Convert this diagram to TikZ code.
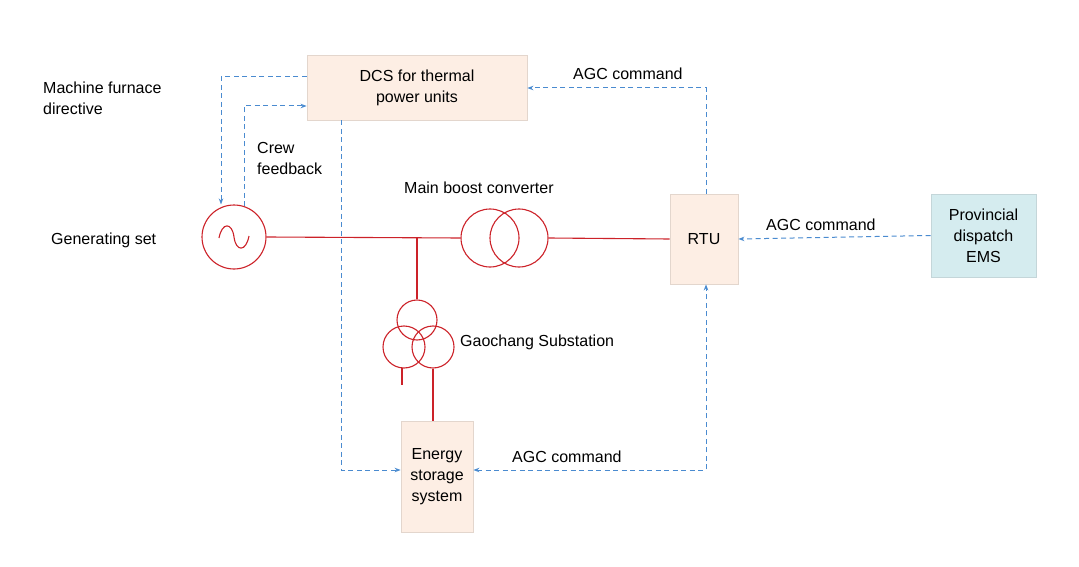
\documentclass[tikz,border=0pt]{standalone}
\usepackage{fontspec}
\setmainfont{Liberation Sans}
\usetikzlibrary{arrows.meta}
\definecolor{boxf}{HTML}{FDEEE4}
\definecolor{boxd}{HTML}{E3D6CD}
\definecolor{emsf}{HTML}{D5ECEF}
\definecolor{red1}{HTML}{CC2229}
\definecolor{blu}{HTML}{4A8BD0}
\begin{document}
\begin{tikzpicture}[x=1pt,y=-1pt,
 box/.style={draw=boxd,fill=boxf,line width=0.8pt,align=center,font=\fontsize{16}{21}\selectfont,inner sep=0pt},
 lbl/.style={font=\fontsize{16}{21}\selectfont,align=left,anchor=west,inner sep=0pt},
 pw/.style={draw=red1,line width=1.1pt},
 sig/.style={draw=blu,line width=1pt,dash pattern=on 5pt off 3.5pt,-{Stealth[length=6pt,width=4.5pt]}}]
\useasboundingbox (0,0) rectangle (1079,567);
\node[box,minimum width=220pt,minimum height=65pt] (dcs) at (417,87.5) {DCS for thermal\\power units};
\node[box,minimum width=68pt,minimum height=90pt] (rtu) at (704,239) {RTU};
\node[box,fill=emsf,draw=emsf!80!gray,minimum width=105pt,minimum height=83pt] (ems) at (983.5,235.5) {Provincial\\dispatch\\EMS};
\node[box,minimum width=72pt,minimum height=111pt] (ess) at (437,476.5) {Energy\\storage\\system};
% generator
\node[pw,circle,minimum size=64pt,inner sep=0pt] (gen) at (234,237) {};
\draw[pw] (219,238) .. controls (222,222) and (232,222) .. (234,237) .. controls (236,252) and (246,252) .. (249,236);
% main transformer
\node[pw,circle,minimum size=58pt,inner sep=0pt] (t1) at (490,238) {};
\node[pw,circle,minimum size=58pt,inner sep=0pt] (t2) at (519,238) {};
\coordinate (j) at (417,238);
\draw[pw] (gen.east) -- (t1.west);
\draw[pw] (t2.east) -- (rtu.west);
% substation
\node[pw,circle,minimum size=40pt,inner sep=0pt] (s1) at (417,320) {};
\node[pw,circle,minimum size=42pt,inner sep=0pt] (s2) at (404,347) {};
\node[pw,circle,minimum size=42pt,inner sep=0pt] (s3) at (433,347) {};
\draw[pw] (j) -- (s1.north);
\coordinate (sl) at (402,385);
\draw[pw] (402,368) -- (sl);
\draw[pw] (s3.south) -- (ess.north -| s3.south);
% signals
\coordinate (a1) at (221,77);
\draw[sig] (dcs.west |- a1) -- (a1) -- (gen.north -| a1);
\coordinate (a2) at (244,106);
\draw[sig] (244,206) -- (a2) -- (dcs.west |- a2);
\coordinate (a3) at (341,470);
\draw[sig] (dcs.south -| a3) -- (a3) -- (ess.west |- a3);
\coordinate (a4) at (706,88);
\draw[sig] (rtu.north -| a4) -- (a4) -- (dcs.east |- a4);
\draw[sig] (ems.west) -- (rtu.east);
\coordinate (a5) at (706,470);
\draw[sig,{Stealth[length=6pt,width=4.5pt]}-{Stealth[length=6pt,width=4.5pt]}] (ess.east |- a5) -- (a5) -- (rtu.south -| a5);
% labels
\node[lbl] (l1) at (43,98) {Machine furnace\\directive};
\node[lbl] (l2) at (257,158) {Crew\\feedback};
\node[lbl] (l3) at (51,240) {Generating set};
\node[lbl] (l4) at (404,188) {Main boost converter};
\node[lbl] (l5) at (460,342) {Gaochang Substation};
\node[lbl] (l6) at (573,74) {AGC command};
\node[lbl] (l7) at (766,225) {AGC command};
\node[lbl] (l8) at (512,457) {AGC command};
\end{tikzpicture}
\end{document}
